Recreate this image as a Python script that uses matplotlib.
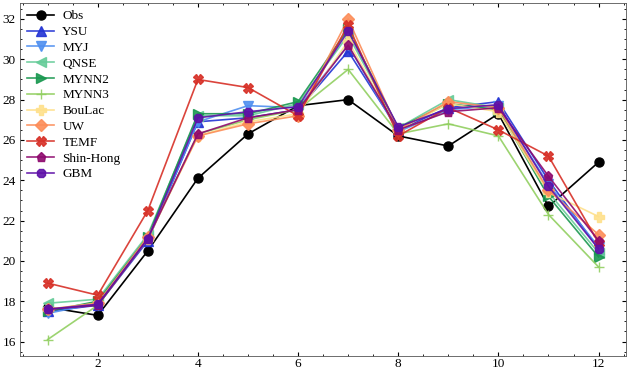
import matplotlib
matplotlib.use("Agg")
import matplotlib.pyplot as plt
from matplotlib.ticker import MultipleLocator

months = [1, 2, 3, 4, 5, 6, 7, 8, 9, 10, 11, 12]

obs      = [17.7, 17.3, 20.5, 24.1, 26.3, 27.7, 28.0, 26.2, 25.7, 27.3, 22.7, 24.9]
ysu      = [17.5, 17.8, 21.0, 26.9, 27.1, 27.5, 30.4, 26.5, 27.6, 27.9, 24.0, 20.6]
myj      = [17.4, 17.9, 21.1, 26.9, 27.7, 27.6, 30.7, 26.4, 27.5, 27.7, 23.8, 20.7]
qnse     = [17.9, 18.1, 21.3, 27.2, 27.2, 27.8, 31.2, 26.6, 28.0, 27.6, 23.4, 20.4]
mynn2    = [17.5, 18.0, 21.2, 27.3, 27.3, 27.9, 31.5, 26.6, 27.8, 27.5, 23.2, 20.2]
mynn3    = [16.1, 17.8, 21.1, 26.3, 27.0, 27.5, 29.5, 26.3, 26.8, 26.2, 22.3, 19.7]
boulac   = [17.6, 17.9, 21.1, 26.2, 26.9, 27.3, 30.9, 26.5, 27.8, 27.4, 23.4, 22.2]
uw       = [17.6, 17.9, 21.2, 26.2, 26.8, 27.2, 32.0, 26.5, 27.9, 27.6, 23.5, 21.3]
temf     = [18.9, 18.3, 22.5, 29.0, 28.6, 27.2, 31.7, 26.2, 27.6, 26.5, 25.2, 20.9]
shinhong = [17.6, 17.8, 21.1, 26.3, 27.1, 27.5, 30.7, 26.5, 27.4, 27.6, 24.2, 21.0]
gbm      = [17.6, 17.85, 21.1, 27.1, 27.4, 27.65, 31.4, 26.65, 27.55, 27.75, 23.7, 20.6]

names = ["Obs", "YSU", "MYJ", "QNSE", "MYNN2", "MYNN3", "BouLac", "UW", "TEMF", "Shin-Hong", "GBM"]
series = [obs, ysu, myj, qnse, mynn2, mynn3, boulac, uw, temf, shinhong, gbm]
colors = ["#000000", "#2233d4", "#4f8ff0", "#66cc99", "#1a9850", "#91cf60",
          "#fee08b", "#fc8d59", "#d73027", "#8e0a6e", "#5e10a8"]
markers = ["o", "^", "v", "<", ">", "+", "P", "D", "X", "p", "8"]

plt.rcParams['font.family'] = ['Liberation Serif', 'DejaVu Serif']
fig = plt.figure(figsize=(6.28, 3.70), dpi=100)
ax = fig.add_axes([0.032, 0.039, 0.965, 0.953])

for name, vals, c, m in zip(names, series, colors, markers):
    ax.plot(months, vals, color=c, marker=m, markersize=6.5, linewidth=1.2,
            label=name, alpha=1.0 if name == "Obs" else 0.9)

ax.xaxis.set_major_locator(MultipleLocator(2))
ax.xaxis.set_minor_locator(MultipleLocator(0.5))
ax.yaxis.set_major_locator(MultipleLocator(2))
ax.yaxis.set_minor_locator(MultipleLocator(0.5))
ax.tick_params(which='both', direction='in', top=True, right=True, labelsize=9.5)
ax.tick_params(which='major', length=3)
ax.tick_params(which='minor', length=1.5)
ax.tick_params(axis='x', which='both', pad=1.5)
ax.tick_params(axis='y', which='both', pad=3)
for s in ax.spines.values():
    s.set_linewidth(0.6)
    s.set_color('#555555')

ax.legend(loc='upper left', frameon=False, fontsize=9.5, handlelength=2.0,
          labelspacing=0.27, borderaxespad=0.15, handletextpad=0.65)

fig.savefig("out.png", dpi=100)
